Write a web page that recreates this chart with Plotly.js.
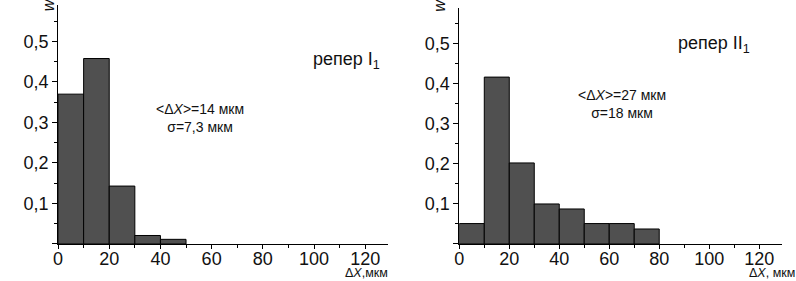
<!DOCTYPE html>
<html><head><meta charset="utf-8">
<script src="https://cdn.plot.ly/plotly-3.0.1.min.js"></script>
<style>html,body{margin:0;padding:0;background:#fff}#chart{width:796px;height:281px}</style>
</head><body><div id="chart"></div>
<script>
// Bin centres (мкм), bin width 10
const binCenters1 = [5, 15, 25, 35, 45];
const w1 = [0.37, 0.458, 0.143, 0.021, 0.0115];
const binCenters2 = [5, 15, 25, 35, 45, 55, 65, 75];
const w2 = [0.051, 0.417, 0.2025, 0.100, 0.0875, 0.051, 0.051, 0.0375];
const xTicks = [0, 20, 40, 60, 80, 100, 120];
const yTicks = [0, 0.1, 0.2, 0.3, 0.4, 0.5];
const yTickText = ['', '0,1', '0,2', '0,3', '0,4', '0,5'];
const label1 = 'репер I<sub>1</sub>';
const label2 = 'репер II<sub>1</sub>';
const stats1 = '&lt;Δ<i>X</i>&gt;=14 мкм<br>σ=7,3 мкм';
const stats2 = '&lt;Δ<i>X</i>&gt;=27 мкм<br>σ=18 мкм';

const FONT = 'Liberation Sans, Arial, sans-serif';
const barStyle = {color: '#505050', line: {color: '#000', width: 1}};

const traces = [
  {type: 'bar', x: binCenters1, y: w1, width: 10, marker: barStyle, xaxis: 'x', yaxis: 'y', hoverinfo: 'none'},
  {type: 'bar', x: binCenters2, y: w2, width: 10, marker: barStyle, xaxis: 'x2', yaxis: 'y2', hoverinfo: 'none'}
];

function xax(dom) {
  return {domain: dom, range: [0, 129], showgrid: false, zeroline: false, showline: true, linecolor: '#000', linewidth: 1,
    tickvals: xTicks, ticks: 'outside', ticklen: 4, tickcolor: '#000', ticklabelstandoff: -6,
    minor: {dtick: 10, tick0: 0, ticks: 'outside', ticklen: 3, tickcolor: '#000'},
    tickfont: {family: FONT, size: 18, color: '#111'}, fixedrange: true};
}
function yax(dom, anchor, top) {
  return {domain: dom, anchor: anchor, range: [0, top], showgrid: false, zeroline: false, showline: true, linecolor: '#000', linewidth: 1,
    tickvals: yTicks, ticktext: yTickText, ticks: 'outside', ticklen: 5, tickcolor: '#000',
    minor: {dtick: 0.05, tick0: 0, ticks: 'outside', ticklen: 3, tickcolor: '#000'},
    tickfont: {family: FONT, size: 18, color: '#111'}, fixedrange: true};
}

const layout = {
  width: 796, height: 281, margin: {l: 0, r: 0, t: 0, b: 0},
  paper_bgcolor: '#fff', plot_bgcolor: '#fff', showlegend: false, bargap: 0,
  separators: ', ',
  xaxis: Object.assign(xax([0.0729, 0.4878]), {anchor: 'y'}),
  yaxis: yax([0.1317, 0.982], 'x', 0.59),
  xaxis2: Object.assign(xax([0.577, 0.982]), {anchor: 'y2'}),
  yaxis2: yax([0.1317, 0.972], 'x2', 0.59),
  annotations: [
    {xref: 'x', yref: 'y', x: 55.5, y: 0.31, text: stats1, showarrow: false, font: {family: FONT, size: 14, color: '#111'}, align: 'center'},
    {xref: 'x2', yref: 'y2', x: 65, y: 0.35, text: stats2, showarrow: false, font: {family: FONT, size: 14, color: '#111'}, align: 'center'},
    {xref: 'paper', yref: 'paper', x: 346/796, y: 1 - 47/281, text: label1, showarrow: false, font: {family: FONT, size: 18, color: '#111'}},
    {xref: 'paper', yref: 'paper', x: 752/796, y: 1 - 31/281, text: label2, showarrow: false, font: {family: FONT, size: 18, color: '#111'}},
    {xref: 'paper', yref: 'paper', x: 389/796, y: 0, xanchor: 'right', yanchor: 'bottom', borderpad: 0, text: 'Δ<i>X</i>,мкм', showarrow: false, font: {family: FONT, size: 12.5, color: '#111'}},
    {xref: 'paper', yref: 'paper', x: 1, y: 0, xanchor: 'right', yanchor: 'bottom', borderpad: 0, text: 'Δ<i>X</i>, мкм', showarrow: false, font: {family: FONT, size: 12.5, color: '#111'}},
    {xref: 'paper', yref: 'paper', x: 39/796, y: 1.01, yanchor: 'top', borderpad: 0, text: '<i>w</i>', textangle: -90, showarrow: false, font: {family: FONT, size: 16, color: '#111'}},
    {xref: 'paper', yref: 'paper', x: 440/796, y: 1.01, yanchor: 'top', borderpad: 0, text: '<i>w</i>', textangle: -90, showarrow: false, font: {family: FONT, size: 16, color: '#111'}}
  ]
};

Plotly.newPlot('chart', traces, layout, {staticPlot: true, displayModeBar: false});
</script></body></html>
